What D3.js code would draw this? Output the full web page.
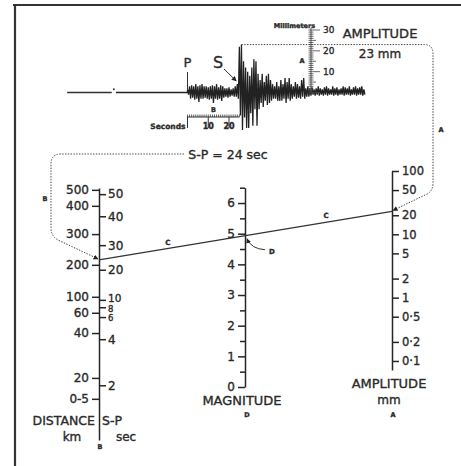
<!DOCTYPE html>
<html>
<head>
<meta charset="utf-8">
<script src="https://cdn.jsdelivr.net/npm/d3@7"></script>
<style>
body{margin:0;background:#fff}
svg{display:block;font-family:"DejaVu Sans",sans-serif}
.ax path,.ax line{stroke:#262626;stroke-width:1.5}
.ax text{fill:#2a2a2a;font-size:12px;stroke:#2a2a2a;stroke-width:0.35}
.dots{fill:none;stroke:#444;stroke-width:1;stroke-dasharray:1.4,1.4}
.lbl{fill:#2a2a2a;stroke:#2a2a2a;stroke-width:0.35}
</style>
</head>
<body>
<div id="chart"></div>
<script>
// left scale: distance (km) and S-P time (sec), placed by their -log A0 value
var distanceLabels = ["500","400","300","200","100","60","40","20","0-5"];
var distanceLogA0  = [4.67, 4.41, 3.95, 3.45, 2.93, 2.67, 2.34, 1.61, 1.27];
var spSeconds      = [50, 40, 30, 20, 10, 8, 6, 4, 2];
var spLogA0        = [4.60, 4.24, 3.77, 3.37, 2.88, 2.76, 2.60, 2.24, 1.49];

var magnitudeTicks = [0,1,2,3,4,5,6];
var magnitudeMinor = [0.5,1.5,2.5,3.5,4.5,5.5,6.5];

var amplitudeTicks  = [100,50,20,10,5,2,1,0.5,0.2,0.1];
var amplitudeLabels = ["100","50","20","10","5","2","1","0·5","0·2","0·1"];

// the reading shown on the nomogram
var spReading  = 24;   // sec
var ampReading = 23;   // mm

// seismogram: max / min trace excursion (mm) for each second after P
var traceUp = [1.5,3,3.5,3,4,3,3.5,4,3,3,2.5,3,3.5,3,4,2.5,3.5,3,2,2,2.5,1.5,2,3,
  4,22,23,15,12,10,8,12,16,15,9,6,9,5,8,9,6,4,3,5,3,6,4,7,5,7,4,3,5,4,3,6,7,2,3,
  2,2.5,1.5,2,3,2,1.5,2.5,3,2,1.5,3,2,2.5,1.5,2,3,2.5,2,3,1.5,2.5,3,2,2.5,3,1.5];
var traceDown = [-1,-3,-2.5,-3.5,-3,-4.5,-3,-3,-2.5,-3,-3.5,-3,-5,-3,-3.5,-3,-4,-2.5,-2,-2.5,-2,-1.5,-2,-2,
  -3,-11,-18,-12,-17,-17,-10,-16,-8,-16,-8,-5,-7,-4,-6,-5,-4,-3,-3,-4,-4,-4,-3,-5,-3,-4,-3,-2,-3,-2.5,-3,-2,-3,-2,-2,
  -1.5,-1,-1.5,-1,-1.5,-1,-1.5,-1,-1.5,-1,-1,-1.5,-1,-1.5,-1,-1,-1.5,-1,-1,-1.5,-1,-1,-1.5,-1,-1,-1.5,-1];
var traceStart = -58;          // sec, quiet line before P
var minuteMark = [-36.5, -34.5];
var secondsTicks = [0,10,20];
var mmTicks = [10,20,30];

var W = 461, H = 466;
var svg = d3.select("#chart").append("svg").attr("width", W).attr("height", H);

// frame
svg.append("path").attr("d","M13,5H461M15,4V466").attr("fill","none")
   .attr("stroke","#333").attr("stroke-width",2.2);

// ---------- nomogram scales ----------
var xL = 99, xM = 245, xR = 392;
var leftY = d3.scaleLinear().domain([0.6, 4.7]).range([440, 188]);
var spToUnit = d3.scaleLinear().domain(spSeconds).range(spLogA0);
var magY = d3.scaleLinear().domain([0, 6.5]).range([387, 187.7]);
var ampY = d3.scaleLog().domain([0.072, 100]).range([370, 171]);

svg.append("g").attr("class","ax").attr("transform","translate("+xL+",0)")
  .call(d3.axisLeft(leftY).tickValues(distanceLogA0)
        .tickFormat(function(d,i){return distanceLabels[i];})
        .tickSize(7).tickPadding(3).tickSizeOuter(0));
var gS = svg.append("g").attr("class","ax").attr("transform","translate("+xL+",0)")
  .call(d3.axisRight(leftY).tickValues(spLogA0)
        .tickFormat(function(d,i){return spSeconds[i];})
        .tickSize(7).tickPadding(2).tickSizeOuter(0));
gS.select(".domain").remove();
// the 10 / 8 / 6 labels sit close together: set them smaller
gS.selectAll("text").each(function(d,i){
  var s = d3.select(this);
  if (spSeconds[i]===10) s.style("font-size","10.5px").attr("dy","0.15em");
  if (spSeconds[i]===8)  s.style("font-size","8.5px").attr("dy","0.45em");
  if (spSeconds[i]===6)  s.style("font-size","8.5px").attr("dy","0.4em");
});

svg.append("g").attr("class","ax").attr("transform","translate("+xM+",0)")
  .call(d3.axisLeft(magY).tickValues(magnitudeTicks).tickFormat(d3.format("d"))
        .tickSize(7).tickPadding(3).tickSizeOuter(0));
svg.append("g").attr("class","ax").attr("transform","translate("+xM+",0)")
  .call(d3.axisLeft(magY).tickValues(magnitudeMinor).tickFormat("").tickSize(5).tickSizeOuter(0))
  .select(".domain").remove();

var gA = svg.append("g").attr("class","ax").attr("transform","translate("+xR+",0)")
  .call(d3.axisRight(ampY).tickValues(amplitudeTicks)
        .tickFormat(function(d,i){return amplitudeLabels[i];})
        .tickSize(7).tickPadding(3).tickSizeOuter(0));
gA.selectAll("text").style("font-size","11.5px");

svg.selectAll(".ax").attr("font-family",null).attr("font-size",null);

// axis titles
function txt(x,y,s,size,anchor){
  return svg.append("text").attr("class","lbl").attr("x",x).attr("y",y)
    .attr("text-anchor",anchor||"middle").style("font-size",size+"px").text(s);
}
txt(95,425,"DISTANCE",12.5,"end");
txt(102,425,"S-P",12.5,"start");
txt(72,441,"km",12);
txt(126,441,"sec",12);
txt(xL+1,449,"B",6.5).style("font-weight","bold");
txt(xM-3,405,"MAGNITUDE",13);
txt(xM+2,417,"D",6.5).style("font-weight","bold");
txt(xR-3,388,"AMPLITUDE",13);
txt(xR-3,404,"mm",12);
txt(xR+1,417,"A",6.5).style("font-weight","bold");

// ---------- reading line C ----------
var p1 = [xL, leftY(spToUnit(spReading))], p2 = [xR, ampY(ampReading)];
svg.append("line").attr("x1",p1[0]).attr("y1",p1[1]).attr("x2",p2[0]).attr("y2",p2[1])
   .attr("stroke","#333").attr("stroke-width",1.3);
function along(f){return [p1[0]+(p2[0]-p1[0])*f, p1[1]+(p2[1]-p1[1])*f];}
[0.235,0.775].forEach(function(f){
  var p = along(f);
  txt(p[0],p[1]-4,"C",7).style("font-weight","bold");
});
var hit = along((xM-xL)/(xR-xL));

svg.append("defs").append("marker").attr("id","ah").attr("viewBox","0 0 10 10")
  .attr("refX",9).attr("refY",5).attr("markerWidth",5).attr("markerHeight",5)
  .attr("orient","auto").append("path").attr("d","M0,0L10,5L0,10z").attr("fill","#222");

svg.append("path").attr("d","M"+(hit[0]+20)+","+(hit[1]+14)+"Q"+(hit[0]+6)+","+(hit[1]+13)+" "+(hit[0]+2)+","+(hit[1]+3))
   .attr("fill","none").attr("stroke","#333").attr("stroke-width",1).attr("marker-end","url(#ah)");
txt(hit[0]+27,hit[1]+18,"D",7).style("font-weight","bold");

// ---------- seismogram ----------
var tx = d3.scaleLinear().domain([0, 20]).range([187.5, 229]);
var my = d3.scaleLinear().domain([0, 30]).range([92.5, 30]);

var pts = [];
traceUp.forEach(function(u,i){ pts.push([i,u]); pts.push([i+0.5,traceDown[i]]); });
var line = d3.line().x(function(d){return tx(d[0]);}).y(function(d){return my(d[1]);});
svg.append("path").attr("d", line([[traceStart,0],[minuteMark[0],0]]))
   .attr("stroke","#333").attr("stroke-width",1.4);
svg.append("path").attr("d", line([[minuteMark[1],0],[0,0]].concat(pts)))
   .attr("fill","none").attr("stroke","#222").attr("stroke-width",1.3);
svg.append("circle").attr("cx",tx(d3.mean(minuteMark))).attr("cy",my(1.6)).attr("r",1).attr("fill","#333");

// P and S marks
svg.append("line").attr("x1",tx(0)).attr("x2",tx(0)).attr("y1",72).attr("y2",90)
   .attr("stroke","#333").attr("stroke-width",1);
txt(tx(0),67,"P",13);
txt(218,68,"S",16);
svg.append("line").attr("x1",224).attr("y1",69).attr("x2",tx(spReading)-1).attr("y2",81)
   .attr("stroke","#333").attr("stroke-width",1).attr("marker-end","url(#ah)");

// seconds ruler
var rulerY = 117;
svg.append("line").attr("x1",tx(0)).attr("x2",tx(25)).attr("y1",rulerY).attr("y2",rulerY)
   .attr("stroke","#333").attr("stroke-width",1.2);
svg.append("g").selectAll("line").data(d3.range(0,26)).join("line")
   .attr("x1",tx).attr("x2",tx).attr("y1",rulerY).attr("y2",rulerY-2.5)
   .attr("stroke","#333").attr("stroke-width",0.8);
svg.append("g").selectAll("line").data(secondsTicks).join("line")
   .attr("x1",tx).attr("x2",tx).attr("y1",rulerY).attr("y2",rulerY+11)
   .attr("stroke","#333").attr("stroke-width",1);
svg.append("g").selectAll("text").data(secondsTicks.slice(1)).join("text")
   .attr("class","lbl").attr("x",tx).attr("y",rulerY+12).attr("text-anchor","middle")
   .style("font-size","8px").style("font-weight","bold").text(function(d){return d;});
txt(tx(0)-2,rulerY+12,"Seconds",7.5,"end").style("font-weight","bold");
txt(tx(12.5),rulerY-5,"B",6.5).style("font-weight","bold");

// millimetre ruler
var rx = 311;
svg.append("line").attr("x1",rx).attr("x2",rx).attr("y1",my(31)).attr("y2",my(0))
   .attr("stroke","#555").attr("stroke-width",1);
svg.append("g").selectAll("line").data(d3.range(0,31)).join("line")
   .attr("x1",rx-2.5).attr("x2",function(d){return d%10===0?rx+9:(d%5===0?rx+5:rx+2.5);})
   .attr("y1",my).attr("y2",my).attr("stroke","#444").attr("stroke-width",0.8);
svg.append("g").selectAll("text").data(mmTicks).join("text")
   .attr("class","lbl").attr("x",rx+12).attr("y",function(d){return my(d)+3;})
   .style("font-size","9px").text(function(d){return d;});
txt(rx+4,my(32)+2,"Millimeters",6.5,"end").style("font-weight","bold");
txt(rx-9,my(15)+2,"A",6.5).style("font-weight","bold");

txt(380,38,"AMPLITUDE",13);
txt(380,58,"23 mm",12);
txt(228,159,"S-P = 24 sec",12.5);

// dotted transfer lines with arrows onto the nomogram
var peakI = traceUp.indexOf(d3.max(traceUp));
var pk = [tx(peakI), my(traceUp[peakI])];
svg.append("path").attr("class","dots")
   .attr("d","M"+pk[0]+","+pk[1]+"H424Q433,"+pk[1]+" 433,"+(pk[1]+9)+"V183Q433,192 425,195L"+(p2[0]+1)+","+(p2[1]-1))
   .attr("marker-end","url(#ah)");
txt(441,132,"A",6.5).style("font-weight","bold");
svg.append("path").attr("class","dots")
   .attr("d","M184,154H61Q51,154 51,164V228Q51,236 58,240L"+(p1[0]-1)+","+(p1[1]-1))
   .attr("marker-end","url(#ah)");
txt(45,201,"B",6.5).style("font-weight","bold");
</script>
</body>
</html>
